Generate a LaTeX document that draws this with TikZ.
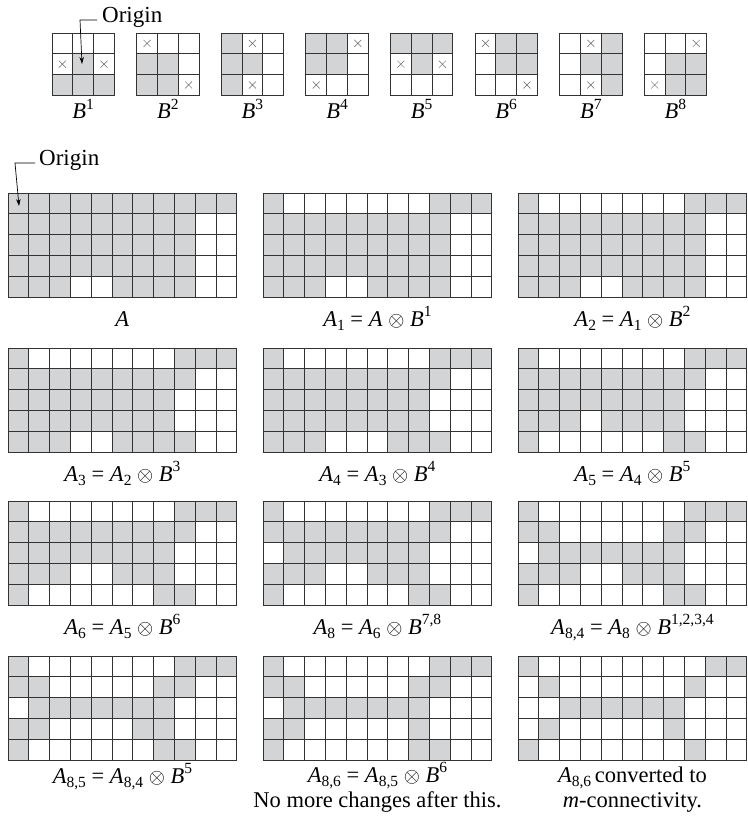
\documentclass[tikz,border=0pt]{standalone}
\usepackage{fontspec}
\setmainfont{Liberation Serif}
\usetikzlibrary{arrows.meta}
\definecolor{cellgray}{RGB}{211,212,214}
\def\cw{20.8}
\newcommand\agrid[7]{%
  \foreach \c in {#3} {\fill[cellgray] ({#1+\c*\cw},{#2+0*\cw}) rectangle ++(\cw,\cw);}
  \foreach \c in {#4} {\fill[cellgray] ({#1+\c*\cw},{#2+1*\cw}) rectangle ++(\cw,\cw);}
  \foreach \c in {#5} {\fill[cellgray] ({#1+\c*\cw},{#2+2*\cw}) rectangle ++(\cw,\cw);}
  \foreach \c in {#6} {\fill[cellgray] ({#1+\c*\cw},{#2+3*\cw}) rectangle ++(\cw,\cw);}
  \foreach \c in {#7} {\fill[cellgray] ({#1+\c*\cw},{#2+4*\cw}) rectangle ++(\cw,\cw);}
  \foreach \i in {0,...,11} {\draw[gridline] ({#1+\i*\cw},{#2}) -- ++(0,{5*\cw});}
  \foreach \j in {0,...,5} {\draw[gridline] ({#1},{#2+\j*\cw}) -- ++({11*\cw},0);}
}
\newcommand\bgrid[4]{%
  \foreach \r/\c in {#3} {\fill[cellgray] ({#1+\c*\cw},{#2+\r*\cw}) rectangle ++(\cw,\cw);}
  \foreach \r/\c in {#4} {\draw[xmark] ({#1+(\c+0.5)*\cw-3.5},{#2+(\r+0.5)*\cw-3.5}) -- ++(7,7) ++(-7,0) -- ++(7,-7);}
  \foreach \i in {0,...,3} {\draw[gridline] ({#1+\i*\cw},{#2}) -- ++(0,{3*\cw});}
  \foreach \j in {0,...,3} {\draw[gridline] ({#1},{#2+\j*\cw}) -- ++({3*\cw},0);}
}
\newcommand\I[1]{\textit{#1}}
\newcommand\lsb[1]{\raisebox{-0.2em}{\fontsize{15.5}{16}\selectfont #1}}
\newcommand\lsp[1]{\raisebox{0.42em}{\fontsize{15.5}{16}\selectfont #1}}
\begin{document}
\begin{tikzpicture}[x=1pt,y=-1pt,
  gridline/.style={draw=black!80,line width=0.8pt,line cap=rect},
  xmark/.style={draw=black!60,line width=0.5pt},
  lab/.style={anchor=base,inner sep=0pt,font=\fontsize{22.5}{24}\selectfont},
  origintext/.style={anchor=base west,inner sep=0pt,font=\fontsize{23}{26}\selectfont},
  leader/.style={draw=black,line width=0.7pt,-{Stealth[length=7pt,width=4.5pt]}}]
\useasboundingbox (0,0) rectangle (747,818);
% structuring elements
\bgrid{52}{33}{1/1,2/0,2/1,2/2}{1/0,1/2}
\bgrid{136.6}{33}{1/0,1/1,2/0,2/1}{0/0,2/2}
\bgrid{221.2}{33}{0/0,1/0,1/1,2/0}{0/1,2/1}
\bgrid{305.8}{33}{0/0,0/1,1/0,1/1}{0/2,2/0}
\bgrid{390.4}{33}{0/0,0/1,0/2,1/1}{1/0,1/2}
\bgrid{475}{33}{0/1,0/2,1/1,1/2}{0/0,2/2}
\bgrid{559.6}{33}{0/2,1/1,1/2,2/2}{0/1,2/1}
\bgrid{644.2}{33}{1/1,1/2,2/1,2/2}{0/2,2/0}
\node[lab] (lb1) at (83.2,119) {\I{B}\lsp{1}};
\node[lab] (lb2) at (167.8,119) {\I{B}\lsp{2}};
\node[lab] (lb3) at (252.4,119) {\I{B}\lsp{3}};
\node[lab] (lb4) at (337,119) {\I{B}\lsp{4}};
\node[lab] (lb5) at (421.6,119) {\I{B}\lsp{5}};
\node[lab] (lb6) at (506.2,119) {\I{B}\lsp{6}};
\node[lab] (lb7) at (590.8,119) {\I{B}\lsp{7}};
\node[lab] (lb8) at (675.4,119) {\I{B}\lsp{8}};
% row 1
\agrid{8}{193}{0,...,10}{0,...,8}{0,...,8}{0,...,8}{0,1,2,5,6,7,8}
\agrid{263}{193}{0,8,9,10}{0,...,8}{0,...,8}{0,...,8}{0,1,2,5,6,7,8}
\agrid{518}{193}{0,8,9,10}{0,...,8}{0,...,8}{0,...,8}{0,1,2,5,6,7,8}
\node[lab] (la) at (122.4,326) {\I{A}};
\node[lab] (la1) at (377.4,326) {\I{A}\lsb{1} = \I{A} $\otimes$ \I{B}\lsp{1}};
\node[lab] (la2) at (632.4,326) {\I{A}\lsb{2} = \I{A}\lsb{1} $\otimes$ \I{B}\lsp{2}};
% row 2
\agrid{8}{348}{0,8,9,10}{0,...,8}{0,...,7}{0,...,7}{0,1,2,5,6,7,8}
\agrid{263}{348}{0,8,9,10}{0,...,8}{0,...,7}{0,...,7}{0,1,2,6,7,8}
\agrid{518}{348}{0,8,9,10}{0,...,8}{0,...,7}{0,1,2,4,5,6,7}{0,7,8}
\node[lab] (la3) at (122.4,481) {\I{A}\lsb{3} = \I{A}\lsb{2} $\otimes$ \I{B}\lsp{3}};
\node[lab] (la4) at (377.4,481) {\I{A}\lsb{4} = \I{A}\lsb{3} $\otimes$ \I{B}\lsp{4}};
\node[lab] (la5) at (632.4,481) {\I{A}\lsb{5} = \I{A}\lsb{4} $\otimes$ \I{B}\lsp{5}};
% row 3
\agrid{8}{501}{0,8,9,10}{0,...,8}{0,...,7}{0,1,2,5,6,7}{0,7,8}
\agrid{263}{501}{0,8,9,10}{0,...,8}{1,...,7}{0,1,2,5,6,7}{0,7,8}
\agrid{518}{501}{0,8,9,10}{0,1,7,8}{1,...,7}{0,1,2,5,6,7}{0,7,8}
\node[lab] (la6) at (122.4,634) {\I{A}\lsb{6} = \I{A}\lsb{5} $\otimes$ \I{B}\lsp{6}};
\node[lab] (la8) at (377.4,634) {\I{A}\lsb{8} = \I{A}\lsb{6} $\otimes$ \I{B}\lsp{7,8}};
\node[lab] (la84) at (632.4,634) {\I{A}\lsb{8,4} = \I{A}\lsb{8} $\otimes$ \I{B}\lsp{1,2,3,4}};
% row 4
\agrid{8}{656}{0,8,9,10}{0,1,7,8}{1,...,7}{0,1,6,7}{0,7,8}
\agrid{263}{656}{0,8,9,10}{0,1,7,8}{1,...,7}{0,1,7}{0,7,8}
\agrid{518}{656}{0,9,10}{1,8}{2,...,7}{1,7}{0,8}
\node[lab] (la85) at (122.4,783) {\I{A}\lsb{8,5} = \I{A}\lsb{8,4} $\otimes$ \I{B}\lsp{5}};
\node[lab] (la86) at (377.4,782) {\I{A}\lsb{8,6} = \I{A}\lsb{8,5} $\otimes$ \I{B}\lsp{6}};
\node[lab] (nomore) at (377.4,807.5) {No more changes after this.};
\node[lab] (lfin) at (632.4,782) {\I{A}\lsb{8,6}\,converted to};
\node[lab] (lfin2) at (632.4,807.5) {\I{m}-connectivity.};
% origin of B1
\node[origintext] (o1) at (102,23) {Origin};
\coordinate (o1tip) at (82,64);
\draw[leader] ([xshift=-5pt,yshift=3pt]o1.base west) -- ++(-17,0) -- (o1tip);
% origin of A
\node[origintext] (o2) at (39,166) {Origin};
\coordinate (o2tip) at (19,206);
\draw[leader] ([xshift=-4pt,yshift=3pt]o2.base west) -- ++(-20,0) -- (o2tip);
\end{tikzpicture}
\end{document}
